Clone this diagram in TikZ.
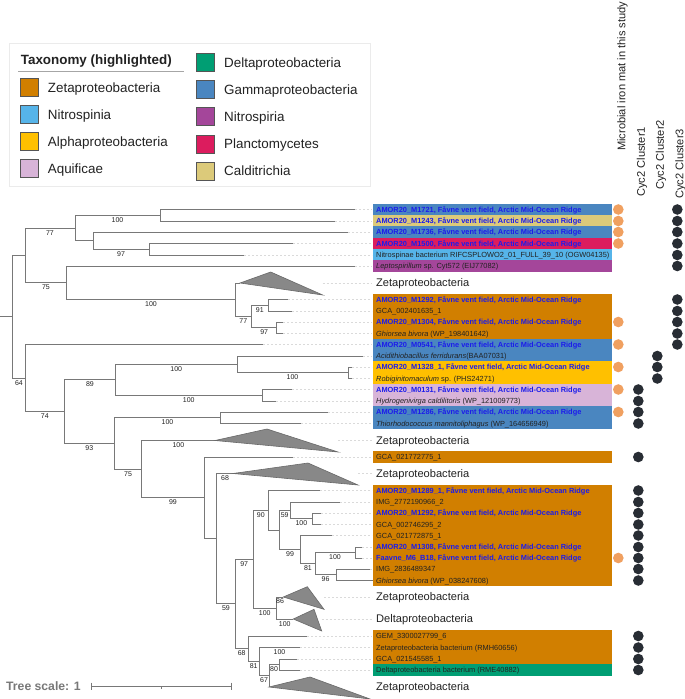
\documentclass[tikz,border=0pt]{standalone}
\usepackage{fontspec}
\setmainfont{Liberation Sans}
\definecolor{cZeta}{RGB}{209,127,0}
\definecolor{cNspinia}{RGB}{86,180,233}
\definecolor{cAlpha}{RGB}{255,192,0}
\definecolor{cAquif}{RGB}{216,180,216}
\definecolor{cDelta}{RGB}{0,158,115}
\definecolor{cGamma}{RGB}{74,134,192}
\definecolor{cNspira}{RGB}{164,70,154}
\definecolor{cPlanc}{RGB}{220,28,94}
\definecolor{cCaldi}{RGB}{220,202,122}
\definecolor{amorblue}{RGB}{28,28,235}
\definecolor{dotorange}{RGB}{240,160,96}
\definecolor{dotdark}{RGB}{40,45,52}
\definecolor{treegray}{RGB}{120,120,120}
\definecolor{leadgray}{RGB}{218,218,218}
\definecolor{txt}{RGB}{34,34,34}
\definecolor{trifill}{RGB}{136,136,136}
\definecolor{tridraw}{RGB}{105,105,105}
\definecolor{swgray}{RGB}{85,85,85}
\definecolor{legborder}{RGB}{235,235,235}
\definecolor{scalegray}{RGB}{120,120,120}
\newcommand{\amor}[1]{\textbf{\color{amorblue}#1, Fåvne vent field, Arctic Mid-Ocean Ridge}}
\begin{document}
\begin{tikzpicture}[x=1pt,y=-1pt,
  tedge/.style={draw=treegray, line width=0.85pt},
  leader/.style={draw=leadgray, line width=0.6pt, dash pattern=on 2pt off 2pt},
  lab/.style={anchor=west, inner sep=0pt, font=\fontsize{7.4}{8}\selectfont, text=txt, text height=5.3pt, text depth=0pt},
  clab/.style={anchor=west, inner sep=0pt, font=\fontsize{11.1}{13}\selectfont, text=txt, text height=7.95pt, text depth=0pt},
  bs/.style={inner sep=0pt, font=\fontsize{7}{8}\selectfont, text=txt, text height=5pt, text depth=0pt},
  odot/.style={circle, fill=dotorange, inner sep=0pt, minimum size=10.6pt},
  ddot/.style={circle, fill=dotdark, inner sep=0pt, minimum size=10.6pt},
  hdr/.style={rotate=90, anchor=west, inner sep=0pt, font=\fontsize{11.1}{13}\selectfont, text=txt, text height=7.95pt, text depth=0pt},
  legtxt/.style={anchor=west, inner sep=0pt, font=\fontsize{13.4}{15}\selectfont, text=txt, text height=9.6pt, text depth=0pt},
  swatch/.style={draw=swgray, line width=0.7pt, minimum size=18pt, inner sep=0pt},
  tri/.style={fill=trifill, draw=tridraw, line width=0.6pt}
]
\useasboundingbox (0,0) rectangle (685,699);
\fill[white] (0,0) rectangle (685,699);

% ---------- legend ----------
\draw[draw=legborder, fill=white, line width=0.8pt] (9.5,43.5) rectangle (370,186.5);
\node[legtxt, font=\bfseries\fontsize{13.4}{15}\selectfont] (lt) at (20.7,60) {Taxonomy (highlighted)};
\coordinate (ul1) at (18.3,71.7); \coordinate (ul2) at (184,71.7);
\draw[gray!70, line width=1pt] (ul1) -- (ul2);
\node[swatch, fill=cZeta] (sw1) at (29.2,87.3) {};
\node[legtxt] (lg1) at (47.7,87.3) {Zetaproteobacteria};
\node[swatch, fill=cNspinia] (sw2) at (29.2,114.2) {};
\node[legtxt] (lg2) at (47.7,114.2) {Nitrospinia};
\node[swatch, fill=cAlpha] (sw3) at (29.2,141.2) {};
\node[legtxt] (lg3) at (47.7,141.2) {Alphaproteobacteria};
\node[swatch, fill=cAquif] (sw4) at (29.2,168.3) {};
\node[legtxt] (lg4) at (47.7,168.3) {Aquificae};
\node[swatch, fill=cDelta] (sw5) at (205.2,62.7) {};
\node[legtxt] (lg5) at (224,62.7) {Deltaproteobacteria};
\node[swatch, fill=cGamma] (sw6) at (205.2,89.5) {};
\node[legtxt] (lg6) at (224,89.5) {Gammaproteobacteria};
\node[swatch, fill=cNspira] (sw7) at (205.2,116.7) {};
\node[legtxt] (lg7) at (224,116.7) {Nitrospiria};
\node[swatch, fill=cPlanc] (sw8) at (205.2,143.9) {};
\node[legtxt] (lg8) at (224,143.9) {Planctomycetes};
\node[swatch, fill=cCaldi] (sw9) at (205.2,171) {};
\node[legtxt] (lg9) at (224,171) {Calditrichia};

% ---------- column headers ----------
\node[hdr] (h0) at (621.5,151) {Microbial iron mat in this study};
\node[hdr] (h1) at (641,197) {Cyc2 Cluster1};
\node[hdr] (h2) at (660,190) {Cyc2 Cluster2};
\node[hdr] (h3) at (679.5,199) {Cyc2 Cluster3};

% ---------- label boxes ----------
\foreach \y/\c in {209.5/cGamma,221/cCaldi,232/cGamma,243.5/cPlanc,255/cNspinia,266/cNspira,
  299.5/cZeta,311/cZeta,322/cZeta,333.5/cZeta,344.5/cGamma,356/cGamma,367/cAlpha,378.5/cAlpha,
  389.5/cAquif,401/cAquif,412/cGamma,423.5/cGamma,457/cZeta,
  490.5/cZeta,502/cZeta,513/cZeta,524.5/cZeta,535.5/cZeta,547/cZeta,558/cZeta,569/cZeta,580.5/cZeta,
  636/cZeta,647.5/cZeta,659/cZeta,670/cDelta}
  \fill[\c] (373,\y-5.85) rectangle (612,\y+5.85);

% ---------- tree coordinates ----------
\coordinate (r0) at (0,316.8);
\coordinate (nR) at (12.7,316.8);
\coordinate (nA) at (25.3,255.5);
\coordinate (nB) at (75,228.1);
\coordinate (nB2) at (160,215.25);
\coordinate (nC) at (93.3,240.6);
\coordinate (nD) at (149,249.25);
\coordinate (nE) at (66.7,282.9);
\coordinate (nF) at (235,299.75);
\coordinate (nG) at (251.7,316.5);
\coordinate (nH) at (268,305.25);
\coordinate (nI) at (276.7,327.75);
\coordinate (nJ) at (25.3,378.1);
\coordinate (nK) at (64.3,411.7);
\coordinate (nL) at (115.7,379.9);
\coordinate (nM) at (237,364.4);
\coordinate (nN) at (348,372.75);
\coordinate (nO) at (262,395.25);
\coordinate (nP) at (114.3,443.5);
\coordinate (nQ) at (220.7,417.75);
\coordinate (nRR) at (141.7,469.2);
\coordinate (nS) at (204,497.85);
\coordinate (nT) at (216.7,538.7);
\coordinate (nU) at (235,603.9);
\coordinate (nV) at (253.3,559.1);
\coordinate (nW) at (268.3,510.25);
\coordinate (nX) at (279.3,530);
\coordinate (nY) at (290,510.1);
\coordinate (nZ) at (312.7,518.75);
\coordinate (nAA) at (300.7,549.4);
\coordinate (nAB) at (315,563.6);
\coordinate (nAC) at (355,552.5);
\coordinate (nAD) at (336,574.75);
\coordinate (nAE) at (276,608);
\coordinate (nAF) at (248.3,648.7);
\coordinate (nAG) at (259,661.4);
\coordinate (nAH) at (269,675.8);
\coordinate (nAI) at (279,664.5);
% leaf ends / triangle apexes
\coordinate (e1) at (355,209.5);
\coordinate (e2) at (335,221);
\coordinate (e3) at (348,232);
\coordinate (e4) at (293,243.5);
\coordinate (e5) at (244,255);
\coordinate (e6) at (355,266);
\coordinate (e7) at (240,283);
\coordinate (e8) at (288,299.5);
\coordinate (e9) at (292,311);
\coordinate (e10) at (283,322);
\coordinate (e11) at (283,333.5);
\coordinate (e12) at (263,344.5);
\coordinate (e13) at (363,356);
\coordinate (e14) at (352,367);
\coordinate (e15) at (352,378.5);
\coordinate (e16) at (292,389.5);
\coordinate (e17) at (276,401);
\coordinate (e18) at (328,412);
\coordinate (e19) at (301,423.5);
\coordinate (e20) at (215,440.5);
\coordinate (e21) at (293,457);
\coordinate (e22) at (233,473.5);
\coordinate (e23) at (320,490.5);
\coordinate (e24) at (340,502);
\coordinate (e25) at (321,513);
\coordinate (e26) at (321,524.5);
\coordinate (e27) at (332,535.5);
\coordinate (e28) at (362,547);
\coordinate (e29) at (362,558);
\coordinate (e30) at (370,569);
\coordinate (e31) at (373,580.5);
\coordinate (e32) at (283.3,597);
\coordinate (e33) at (293.3,619);
\coordinate (e34) at (307,636);
\coordinate (e35) at (300,647.5);
\coordinate (e36) at (297,659);
\coordinate (e37) at (300,670);
\coordinate (e38) at (269,687);
% triangle far vertices
\coordinate (t7a) at (270.7,272);   \coordinate (t7b) at (322.7,295);
\coordinate (t20a) at (267,429);    \coordinate (t20b) at (338,452);
\coordinate (t22a) at (308,463);    \coordinate (t22b) at (358,485);
\coordinate (t32a) at (307.3,586.7);\coordinate (t32b) at (324,609.3);
\coordinate (t33a) at (314,609.3);  \coordinate (t33b) at (321.7,631);
\coordinate (t38a) at (310,677);    \coordinate (t38b) at (370,699);
\coordinate (ld) at (372,0);

% ---------- leaders ----------
\foreach \i in {1,2,3,4,5,6,8,9,10,11,12,13,14,15,16,17,18,19,21,23,24,25,26,27,28,29,30,31,34,35,36,37}
  \draw[leader] (e\i) -- (e\i -| ld);
\foreach \i in {7,20,22,32,33}
  \draw[leader] (e\i -| t\i b) -- (e\i -| ld);

% ---------- branches ----------
\draw[tedge] (r0) -- (nR);
\foreach \p/\c in {nR/nA,nR/nJ,nA/nB,nA/nE,nB/nB2,nB/nC,nB2/e1,nB2/e2,nC/e3,nC/nD,nD/e4,nD/e5,
  nE/e6,nE/nF,nF/e7,nF/nG,nG/nH,nG/nI,nH/e8,nH/e9,nI/e10,nI/e11,nJ/e12,nJ/nK,nK/nL,nK/nP,
  nL/nM,nL/nO,nM/e13,nM/nN,nN/e14,nN/e15,nO/e16,nO/e17,nP/nQ,nP/nRR,nQ/e18,nQ/e19,
  nRR/e20,nRR/nS,nS/e21,nS/nT,nT/e22,nT/nU,nU/nV,nU/nAF,nV/nW,nV/nAE,nW/e23,nW/nX,
  nX/nY,nX/nAA,nY/e24,nY/nZ,nZ/e25,nZ/e26,nAA/e27,nAA/nAB,nAB/nAC,nAB/nAD,nAC/e28,nAC/e29,
  nAD/e30,nAD/e31,nAE/e32,nAE/e33,nAF/e34,nAF/nAG,nAG/e35,nAG/nAH,nAH/nAI,nAH/e38,nAI/e36,nAI/e37}
  \draw[tedge] (\p) |- (\c);

% ---------- collapsed clades ----------
\foreach \i in {7,20,22,32,33,38}
  \draw[tri] (e\i) -- (t\i a) -- (t\i b) -- cycle;

% ---------- bootstrap values ----------
\node[bs] (b1) at (117.5,219.8) {100};
\node[bs] (b2) at (50,232.6) {77};
\node[bs] (b3) at (121,253.8) {97};
\node[bs] (b4) at (46,287.4) {75};
\node[bs] (b5) at (151,304.3) {100};
\node[bs] (b6) at (243.3,321) {77};
\node[bs] (b7) at (259.8,309.8) {91};
\node[bs] (b8) at (264.2,332.3) {97};
\node[bs] (b9) at (19,382.6) {64};
\node[bs] (b10) at (44.8,416.2) {74};
\node[bs] (b11) at (90,384.4) {89};
\node[bs] (b12) at (176.3,368.9) {100};
\node[bs] (b13) at (292.5,377.3) {100};
\node[bs] (b14) at (188.8,399.8) {100};
\node[bs] (b15) at (89.3,448) {93};
\node[bs] (b16) at (167.5,422.3) {100};
\node[bs] (b17) at (128,473.7) {75};
\node[bs] (b18) at (178.4,445) {100};
\node[bs] (b19) at (172.9,502.4) {99};
\node[bs] (b20) at (225,478) {68};
\node[bs] (b21) at (225.9,608.4) {59};
\node[bs] (b22) at (244.2,563.6) {97};
\node[bs] (b23) at (260.8,514.8) {90};
\node[bs] (b24) at (284.7,514.6) {59};
\node[bs] (b25) at (301.4,523.3) {100};
\node[bs] (b26) at (290,553.9) {99};
\node[bs] (b27) at (307.9,568.1) {81};
\node[bs] (b28) at (335,557) {100};
\node[bs] (b29) at (325.5,579.3) {96};
\node[bs] (b30) at (264.7,612.6) {100};
\node[bs] (b31) at (280,601.3) {86};
\node[bs] (b32) at (284.7,623.5) {100};
\node[bs] (b33) at (241.7,653.2) {68};
\node[bs] (b34) at (253.7,665.9) {81};
\node[bs] (b35) at (279.5,652) {100};
\node[bs] (b36) at (264,680.3) {67};
\node[bs] (b37) at (274,669) {80};

% ---------- leaf labels ----------
\node[lab] (L1) at (376,209.5) {\amor{AMOR20\_M1721}};
\node[lab] (L2) at (376,221) {\amor{AMOR20\_M1243}};
\node[lab] (L3) at (376,232) {\amor{AMOR20\_M1736}};
\node[lab] (L4) at (376,243.5) {\amor{AMOR20\_M1500}};
\node[lab] (L5) at (376,255) {Nitrospinae bacterium RIFCSPLOWO2\_01\_FULL\_39\_10 (OGW04135)};
\node[lab] (L6) at (376,266) {\textit{Leptospirillum} sp. Cyt572 (EIJ77082)};
\node[clab] (L7) at (376,283) {Zetaproteobacteria};
\node[lab] (L8) at (376,299.5) {\amor{AMOR20\_M1292}};
\node[lab] (L9) at (376,311) {GCA\_002401635\_1};
\node[lab] (L10) at (376,322) {\amor{AMOR20\_M1304}};
\node[lab] (L11) at (376,333.5) {\textit{Ghiorsea bivora} (WP\_198401642)};
\node[lab] (L12) at (376,344.5) {\amor{AMOR20\_M0541}};
\node[lab] (L13) at (376,356) {\textit{Acidithiobacillus ferridurans}(BAA07031)};
\node[lab] (L14) at (376,367) {\amor{AMOR20\_M1328\_1}};
\node[lab] (L15) at (376,378.5) {\textit{Robiginitomaculum} sp. (PHS24271)};
\node[lab] (L16) at (376,389.5) {\amor{AMOR20\_M0131}};
\node[lab] (L17) at (376,401) {\textit{Hydrogenivirga caldilitoris} (WP\_121009773)};
\node[lab] (L18) at (376,412) {\amor{AMOR20\_M1286}};
\node[lab] (L19) at (376,423.5) {\textit{Thiorhodococcus mannitoliphagus} (WP\_164656949)};
\node[clab] (L20) at (376,440.5) {Zetaproteobacteria};
\node[lab] (L21) at (376,457) {GCA\_021772775\_1};
\node[clab] (L22) at (376,473.5) {Zetaproteobacteria};
\node[lab] (L23) at (376,490.5) {\amor{AMOR20\_M1289\_1}};
\node[lab] (L24) at (376,502) {IMG\_2772190966\_2};
\node[lab] (L25) at (376,513) {\amor{AMOR20\_M1292}};
\node[lab] (L26) at (376,524.5) {GCA\_002746295\_2};
\node[lab] (L27) at (376,535.5) {GCA\_021772875\_1};
\node[lab] (L28) at (376,547) {\amor{AMOR20\_M1308}};
\node[lab] (L29) at (376,558) {\amor{Faavne\_M6\_B18}};
\node[lab] (L30) at (376,569) {IMG\_2836489347};
\node[lab] (L31) at (376,580.5) {\textit{Ghiorsea bivora} (WP\_038247608)};
\node[clab] (L32) at (376,597) {Zetaproteobacteria};
\node[clab] (L33) at (376,619) {Deltaproteobacteria};
\node[lab] (L34) at (376,636) {GEM\_3300027799\_6};
\node[lab] (L35) at (376,647.5) {Zetaproteobacteria bacterium (RMH60656)};
\node[lab] (L36) at (376,659) {GCA\_021545585\_1};
\node[lab] (L37) at (376,670) {Deltaproteobacteria bacterium (RME40882)};
\node[clab] (L38) at (376,687) {Zetaproteobacteria};

% ---------- data dots ----------
\foreach \y [count=\i] in {209.5,221,232,243.5,322,344.5,367,389.5,412,558}
  \node[odot] (od\i) at (618.3,\y) {};
\foreach \y [count=\i] in {389.5,401,412,423.5,457,490.5,502,513,524.5,535.5,547,558,569,580.5,636,647.5,659,670}
  \node[ddot] (da\i) at (638.3,\y) {};
\foreach \y [count=\i] in {356,367,378.5}
  \node[ddot] (db\i) at (657.3,\y) {};
\foreach \y [count=\i] in {209.5,221,232,243.5,255,266,299.5,311,322,333.5,344.5}
  \node[ddot] (dc\i) at (677.3,\y) {};

% ---------- tree scale ----------
\node[anchor=west, inner sep=0pt, font=\bfseries\fontsize{12.2}{14}\selectfont, text=scalegray, text height=8.7pt, text depth=0pt] (ts) at (6,686) {Tree scale: 1};
\coordinate (sb1) at (91.7,686); \coordinate (sb2) at (231,686); \coordinate (sbm) at (161.35,686);
\draw[scalegray, line width=0.8pt] (sb1) -- (sb2);
\draw[scalegray, line width=0.8pt] ([yshift=3.5pt]sb1) -- ([yshift=-3.5pt]sb1);
\draw[scalegray, line width=0.8pt] ([yshift=3.5pt]sb2) -- ([yshift=-3.5pt]sb2);
\draw[scalegray, line width=0.8pt] (sbm) -- ([yshift=-3pt]sbm);
\end{tikzpicture}
\end{document}
